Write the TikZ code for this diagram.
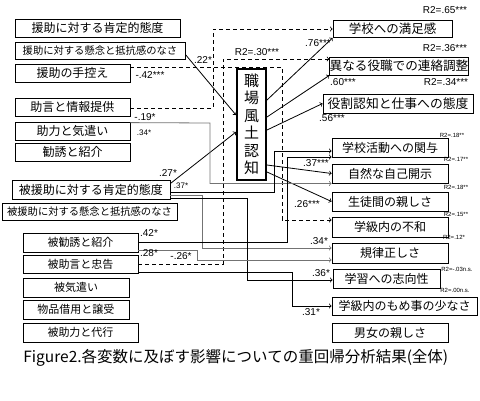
\documentclass[tikz,border=0pt]{standalone}
\usepackage{fontspec}
\setmainfont{Liberation Sans}
\newfontfamily\jfont{Noto Sans CJK JP}

\begin{document}
\begin{tikzpicture}[
  x=1pt, y=-1pt,
  line width=0.8pt,
  box/.style={draw, inner sep=0pt, minimum height=18pt, font=\jfont\fontsize{12}{12}\selectfont},
  sbox/.style={box, font=\jfont\fontsize{10.3}{10.3}\selectfont},
  bbox/.style={box, font=\jfont\fontsize{11}{11}\selectfont},
  coef/.style={font=\fontsize{10}{10}\selectfont, inner sep=0pt},
  scoef/.style={font=\fontsize{8}{8}\selectfont, inner sep=0pt},
  rsq/.style={font=\fontsize{6}{6}\selectfont, inner sep=0pt},
  neg/.style={dash pattern=on 4pt off 3pt},
  gry/.style={draw=black!55},
]
\useasboundingbox (0,0) rectangle (480,400);

\node[box, minimum width=165pt] (enjoPos) at (97.5,28) {援助に対する肯定的態度};
\node[sbox, minimum width=170pt, minimum height=17pt] (enjoKen) at (100,50.5) {援助に対する懸念と抵抗感のなさ};
\node[box, minimum width=115pt] (enjoHik) at (72.5,73) {援助の手控え};
\node[box, minimum width=115pt] (jogen) at (72.5,107) {助言と情報提供};
\node[box, minimum width=115pt] (joryoku) at (72.5,131) {助力と気遣い};
\node[box, minimum width=115pt] (kanyu) at (72.5,152) {勧誘と紹介};
\node[box, minimum width=158pt, minimum height=19pt] (hiPos) at (91,189.5) {被援助に対する肯定的態度};
\node[sbox, minimum width=175pt, minimum height=17pt] (hiKen) at (89.5,211.5) {被援助に対する懸念と抵抗感のなさ};
\node[bbox, minimum width=115pt, minimum height=19pt] (hiKanyu) at (80.5,242.5) {被勧誘と紹介};
\node[bbox, minimum width=115pt] (hiJogen) at (80.5,264) {被助言と忠告};
\node[bbox, minimum width=106pt, minimum height=19pt] (hiKizukai) at (76,287.5) {被気遣い};
\node[bbox, minimum width=106pt, minimum height=19pt] (buppin) at (76,309.5) {物品借用と譲受};
\node[bbox, minimum width=115pt, minimum height=19pt] (hiJoryoku) at (80.5,332.5) {被助力と代行};

\node[draw, line width=2pt, minimum width=29pt, minimum height=111pt, inner sep=0pt, align=center,
  font=\jfont\fontsize{15}{17.5}\selectfont] (fudo) at (251.5,124.5) {職\\場\\風\\土\\認\\知};

\node[box, minimum width=119pt, minimum height=17pt, font=\jfont\fontsize{12.5}{12.5}\selectfont] (manzoku) at (392.5,29) {学校への満足感};
\node[box, minimum width=138pt, font=\jfont\fontsize{12.6}{12.6}\selectfont] (renraku) at (399,66) {異なる役職での連絡調整};
\node[box, minimum width=150pt, minimum height=19pt, font=\jfont\fontsize{12.8}{12.8}\selectfont] (yakuwari) at (398,103.5) {役割認知と仕事への態度};
\node[box, minimum width=116pt, minimum height=19pt] (katsudo) at (390,147.5) {学校活動への関与};
\node[box, minimum width=116pt, minimum height=19pt] (jiko) at (390,173.5) {自然な自己開示};
\node[box, minimum width=116pt, minimum height=19pt] (shitashi) at (390,201.5) {生徒間の親しさ};
\node[box, minimum width=116pt, minimum height=20pt] (fuwa) at (390,227) {学級内の不和};
\node[box, minimum width=116pt, minimum height=20pt] (kiritsu) at (390,253) {規律正しさ};
\node[box, minimum width=107pt, minimum height=19pt] (gakushu) at (386.5,278.5) {学習への志向性};
\node[box, minimum width=145pt] (momegoto) at (404.5,306) {学級内のもめ事の少なさ};
\node[box, minimum width=116pt, minimum height=19pt] (danjo) at (390,332.5) {男女の親しさ};

\node[anchor=west, inner sep=0pt, font=\jfont\fontsize{15.5}{15.5}\selectfont] (caption) at (23,358) {Figure2.各変数に及ぼす影響についての重回帰分析結果(全体)};

\draw[->] ([yshift=-4pt]enjoKen.east) -- (fudo.west |- 0,115);
\draw[->] ([yshift=6pt]hiPos.east) -- (fudo.west |- 0,132);
\draw[->] (fudo.east |- 0,100) -- (manzoku.south west);
\draw[->] (fudo.east |- 0,117) -- (renraku.south west);
\draw[->] (fudo.east |- 0,130) -- (yakuwari.west);
\draw[->] (fudo.east |- 0,165) -- (jiko.west);
\draw[->] (fudo.east |- 0,172) -- (shitashi.west);

\draw[neg,->] ([yshift=-1pt]jogen.east) -- (213,108) |- (manzoku.west);
\draw[neg,->] ([yshift=6pt]enjoHik.east) -- (282,67) |- ([yshift=7pt]fuwa.west);
\draw[neg,->] (hiJogen.east) -- (223,264) |- ([yshift=7pt]renraku.west);

\draw[gry,->] ([yshift=-1pt]joryoku.north east) -- (210,123) |- ([yshift=-10pt]jiko.west);
\draw[->] ([yshift=-2.5pt]hiPos.east) -- (274,192) |- ([yshift=-3.5pt]katsudo.west);
\draw[gry,->] ([yshift=-5.5pt]hiPos.east) -- (202,195) |- ([yshift=5pt]kiritsu.west);
\draw[->] ([yshift=-9pt]hiPos.east) -- (247,198.5) |- ([yshift=-1.5pt]gakushu.west);
\draw[->] (hiKanyu.east) -- (287,242.5) |- ([yshift=-9.5pt]katsudo.west);
\draw[gry,->] ([yshift=-7.5pt]hiKanyu.east) -- (197,250) |- ([yshift=-7pt]kiritsu.west);
\draw[->] ([yshift=-8pt]hiJogen.east) -- (292,272) |- (momegoto.west);

\node[coef] (b22) at (203,60) {.22*};
\node[coef] (b42n) at (150,75) {-.42***};
\node[coef] (b19n) at (145,117) {-.19*};
\node[scoef] (b34a) at (144,133) {.34*};
\node[coef] (b27) at (168,173) {.27*};
\node[scoef] (b37a) at (181,186) {.37*};
\node[coef] (r30) at (257,52) {R2=.30***};
\node[coef] (r65) at (445,10) {R2=.65***};
\node[coef] (b76) at (318,43) {.76***};
\node[coef] (r36) at (445,48) {R2=.36***};
\node[coef] (b60) at (343,82) {.60***};
\node[coef] (r34) at (446,82) {R2=.34***};
\node[coef] (b56) at (332,118) {.56***};
\node[rsq] (r18a) at (452,135) {R2=.18**};
\node[coef] (b37b) at (316,163) {.37***};
\node[rsq] (r17) at (456,159) {R2=.17**};
\node[rsq] (r18b) at (456,187) {R2=.18**};
\node[coef] (b26) at (307,204) {.26***};
\node[rsq] (r15) at (456,214) {R2=.15**};
\node[rsq] (r12) at (454,237) {R2=.12*};
\node[coef] (b34b) at (319,241) {.34*};
\node[coef] (b36) at (321,273) {.36*};
\node[rsq] (r03) at (457,269) {R2=-.03n.s.};
\node[rsq] (r00) at (455,290) {R2=.00n.s.};
\node[coef] (b31) at (311,312) {.31*};
\node[coef] (b42) at (149,233) {.42*};
\node[coef] (b28) at (149,253) {.28*};
\node[coef] (b26n) at (181,256) {-.26*};

\end{tikzpicture}
\end{document}
